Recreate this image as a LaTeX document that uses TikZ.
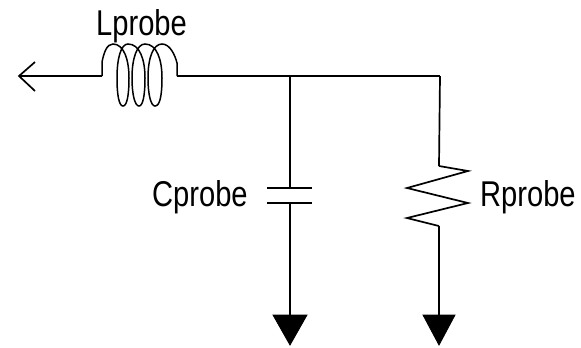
\documentclass[tikz,border=0pt]{standalone}
\usepackage{fontspec}
\setmainfont{Liberation Sans}
\tikzset{
  wire/.style={line width=1.7bp,black},
  gndtip/.style={fill=black,draw=black,line width=.8bp,line join=miter},
  lbl/.style={inner sep=0pt,anchor=base west,font=\fontsize{32bp}{34bp}\selectfont,xscale=.91,yscale=1.12},
}
\begin{document}
\begin{tikzpicture}[x=1bp,y=-1bp]
\useasboundingbox[fill=white] (0,0) rectangle (581,347);
\coordinate (tip) at (19,76);
\coordinate (barbA) at (35,62);
\coordinate (barbB) at (35,91);
\coordinate (coilL) at (102,76);
\coordinate (coilR) at (177,76);
\coordinate (junc) at (290,76);
\coordinate (corner) at (440,76);
\coordinate (capTop) at (290,188);
\coordinate (capBot) at (290,203);
\coordinate (gndC) at (290,315);
\coordinate (resTop) at (439,166);
\coordinate (resBot) at (439,226);
\coordinate (gndR) at (439,315);
\draw[wire] (barbA) -- (tip) -- (barbB);
\draw[wire] (tip) -- (coilL);
\draw[wire,line width=1.5bp] (coilL) -- (102,62)
  .. controls (104,52) and (107,44) .. (113,44)
  .. controls (124,44) and (129,60) .. (129,78)
  .. controls (129,95) and (127,106) .. (123,106)
  .. controls (119,106) and (117,95) .. (117,78)
  .. controls (117,58) and (121,44) .. (128,44)
  .. controls (140,44) and (145,60) .. (145,78)
  .. controls (145,95) and (143,106) .. (139,106)
  .. controls (135,106) and (132,95) .. (132,78)
  .. controls (132,58) and (137,44) .. (145,44)
  .. controls (157,44) and (162,60) .. (162,78)
  .. controls (162,95) and (160,106) .. (155,106)
  .. controls (151,106) and (148,95) .. (148,78)
  .. controls (148,58) and (153,44) .. (162,44)
  .. controls (170,44) and (175,55) .. (177,63) -- (coilR);
\draw[wire] (coilR) -- (corner);
\draw[wire] (junc) -- (capTop);
\draw[wire] (capBot) -- (gndC);
\draw[wire] (267,188) -- (capTop) -- (312,188);
\draw[wire] (267,203) -- (capBot) -- (312,203);
\draw[wire] (corner) -- (resTop);
\draw[wire,line join=miter] (resTop) -- (468,171) -- (407,188) -- (468,203) -- (407,218) -- (resBot);
\draw[wire] (resBot) -- (gndR);
\fill[gndtip] (gndC) ++(-17,0) -- ++(34,0) -- (290,345) -- cycle;
\fill[gndtip] (gndR) ++(-16,0) -- ++(32,0) -- (439,345) -- cycle;
\node[lbl] (lprobe) at (96,35) {Lprobe};
\node[lbl] (cprobe) at (152,206) {Cprobe};
\node[lbl] (rprobe) at (480,206) {Rprobe};
\end{tikzpicture}
\end{document}
